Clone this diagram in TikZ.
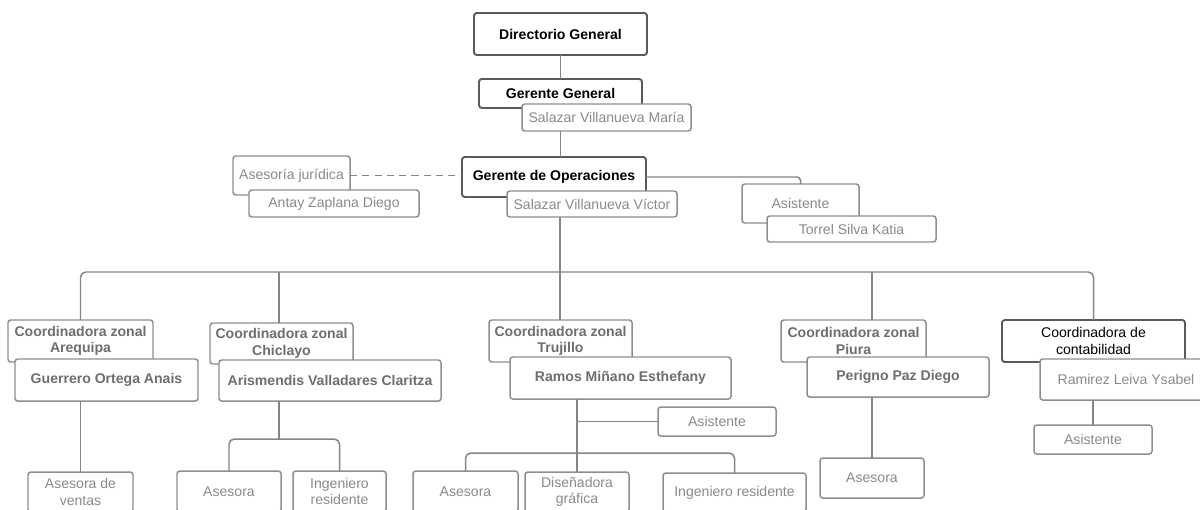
\documentclass[tikz,border=0pt]{standalone}
\usepackage{fontspec}
\setmainfont{Liberation Sans}
\definecolor{darkb}{HTML}{5A5A5A}
\definecolor{grayb}{HTML}{8E8E8E}
\definecolor{grayt}{HTML}{8A8A8A}
\definecolor{graybt}{HTML}{6E6E6E}
\definecolor{connc}{HTML}{858585}
\tikzset{
  basebox/.style={fill=white, rounded corners=1.6pt, inner sep=0pt, outer sep=0pt,
    align=center, font=\fontsize{8}{9.5}\selectfont},
  tbox/.style={basebox, draw=darkb, line width=1.1pt, text=black, font=\fontsize{8}{9.5}\selectfont\bfseries},
  tregbox/.style={basebox, draw=darkb, line width=1.1pt, text=black},
  gbox/.style={basebox, draw=grayb, line width=0.85pt, text=grayt},
  gbbox/.style={basebox, draw=grayb, line width=0.85pt, text=graybt, font=\fontsize{8}{9.5}\selectfont\bfseries},
  conn/.style={draw=connc, line width=0.85pt},
  dashconn/.style={conn, dashed, dash pattern=on 4pt off 3pt}
}
\newcommand\bx[7]{%
  \node[#6, minimum width={(#4-#2)*0.02cm}, minimum height={(#5-#3)*0.02cm}]
    (#1) at ({(#2+#4)/2},{(#3+#5)/2}) {#7};}
\begin{document}
\begin{tikzpicture}[x=0.02cm, y=-0.02cm]
\useasboundingbox (0,0) rectangle (1200,510);
\clip (0,0) rectangle (1200,510);
\fill[white] (0,0) rectangle (1200,510);
% top
\bx{dg}{474}{13}{647}{55}{tbox}{Directorio General}
\bx{gg}{479}{79}{642}{108}{tbox}{Gerente General}
\bx{sm}{522}{104}{691}{131}{gbox}{Salazar Villanueva María}
\bx{aj}{233}{156}{350}{195}{gbox}{Asesoría jurídica}
\bx{az}{249}{190}{419}{217}{gbox}{Antay Zaplana Diego}
\bx{go}{462}{157}{646}{197}{tbox}{Gerente de Operaciones}
\bx{sv}{507}{191}{677}{217}{gbox}{Salazar Villanueva Víctor}
\bx{asa}{742}{184}{859}{223}{gbox}{Asistente}
\bx{ts}{767}{216}{936}{242}{gbox}{Torrel Silva Katia}
% Arequipa
\bx{za}{8}{320}{153}{362}{gbbox}{Coordinadora zonal\\Arequipa}
\bx{ga}{15}{359}{198}{401}{gbbox}{Guerrero Ortega Anais}
\bx{av}{28}{472}{133}{512}{gbox}{Asesora de\\ventas}
% Chiclayo
\bx{zc}{210}{323}{353}{364}{gbbox}{Coordinadora zonal\\Chiclayo}
\bx{ac}{219}{360}{441}{401}{gbbox}{Arismendis Valladares Claritza}
\bx{ca}{177}{471}{281}{512}{gbox}{Asesora}
\bx{cb}{293}{471}{386}{512}{gbox}{Ingeniero\\residente}
% Trujillo
\bx{zt}{489}{320}{632}{362}{gbbox}{Coordinadora zonal\\Trujillo}
\bx{rm}{510}{357}{731}{399}{gbbox}{Ramos Miñano Esthefany}
\bx{ta}{658}{407}{776}{436}{gbox}{Asistente}
\bx{tx}{413}{471}{518}{512}{gbox}{Asesora}
\bx{ty}{525}{472}{629}{512}{gbox}{Diseñadora\\gráfica}
\bx{tz}{663}{473}{806}{512}{gbox}{Ingeniero residente}
% Piura
\bx{zp}{781}{320}{926}{362}{gbbox}{Coordinadora zonal\\Piura}
\bx{pn}{807}{357}{989}{397}{gbbox}{Perigno Paz Diego}
\bx{pa}{820}{458}{924}{498}{gbox}{Asesora}
% Contabilidad
\bx{cc}{1002}{320}{1185}{362}{tregbox}{Coordinadora de\\contabilidad}
\bx{ry}{1040}{359}{1212}{400}{gbox}{Ramirez Leiva Ysabel}
\bx{cx}{1034}{425}{1152}{454}{gbox}{Asistente}
% coordinates
\coordinate (bus) at (560,272);
\coordinate (cj) at (279,439);
\coordinate (tb) at (577,453);
% connectors
\draw[conn] (dg.south) -- (gg.north);
\draw[conn] (gg.south |- sm.south) -- (gg.south |- go.north);
\draw[dashconn] (aj.east) -- (aj.east -| go.west);
\draw[conn, rounded corners=2pt] (go.east) -- (go.east -| asa.north) -- (asa.north);
\draw[conn] (bus |- sv.south) -- (bus);
\draw[conn, rounded corners=3pt] (za.north) -- (za.north |- bus) -- (cc.north |- bus) -- (cc.north);
\draw[conn] (cj |- bus) -- (cj |- zc.north);
\draw[conn] (bus) -- (bus |- zt.north);
\draw[conn] (pa.north |- bus) -- (pa.north |- zp.north);
% Arequipa
\draw[conn] (av.north |- ga.south) -- (av.north);
% Chiclayo
\draw[conn] (cj |- ac.south) -- (cj);
\draw[conn, rounded corners=3pt] (ca.north) -- (ca.north |- cj) -- (cb.north |- cj) -- (cb.north);
% Trujillo
\draw[conn] (tb |- rm.south) -- (ty.north);
\draw[conn] (tb |- ta.west) -- (ta.west);
\draw[conn, rounded corners=3pt] (tx.north) -- (tx.north |- tb) -- (tz.north |- tb) -- (tz.north);
% Piura
\draw[conn] (pa.north |- pn.south) -- (pa.north);
% Contabilidad
\draw[conn] (cx.north |- ry.south) -- (cx.north);
\end{tikzpicture}
\end{document}
